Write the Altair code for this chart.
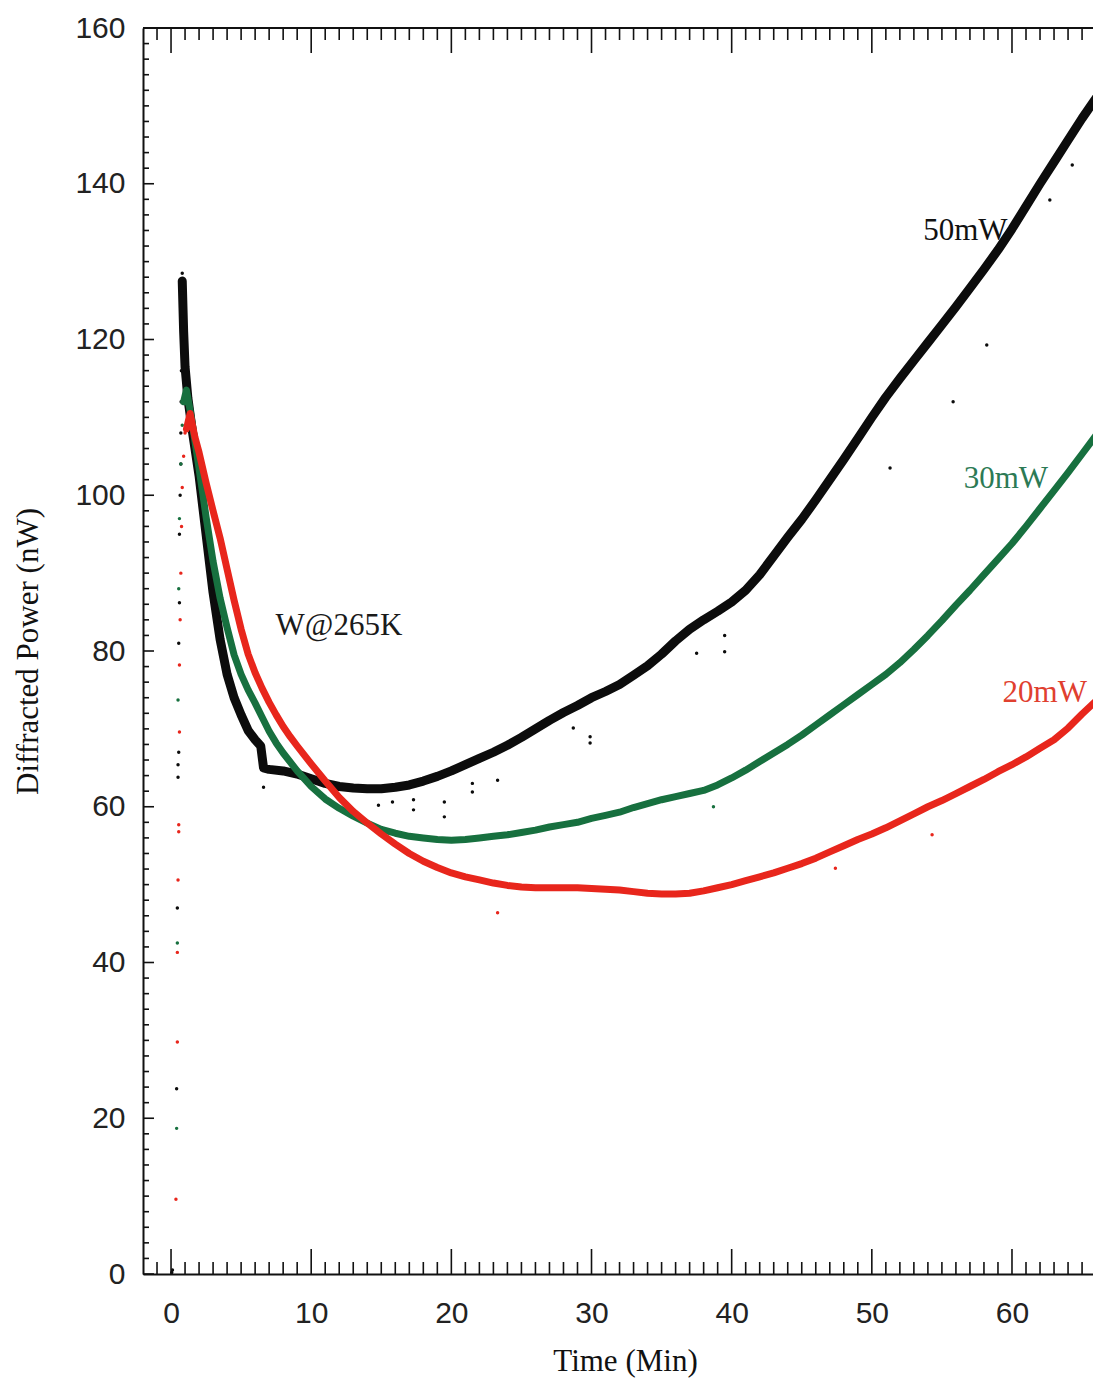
import altair as alt
import pandas as pd

# ---------------- data ----------------
# 50 mW (black)
t50 = [0.8, 0.9, 1.0, 1.2, 1.5, 2.0, 2.5, 3.0, 3.5, 4.0, 4.5, 5.0, 5.5, 6.0, 6.4, 6.6, 7.0,
       8, 9, 10, 11, 12, 13, 14, 15, 16, 17, 18, 19, 20, 21, 22, 23, 24, 25, 26, 27, 28, 29,
       30, 31, 32, 33, 34, 35, 36, 37, 38, 39, 40, 41, 42, 43, 44, 45, 46, 47, 48, 49, 50,
       51, 52, 53, 54, 55, 56, 57, 58, 59, 60, 61, 62, 63, 64, 65, 66, 66.4]
p50 = [127.5, 121, 116.5, 112.5, 108.5, 102.5, 95, 87.5, 81.5, 77, 74, 71.8, 69.8, 68.6, 67.8, 65.0, 64.8,
       64.6, 64.2, 63.6, 63.0, 62.6, 62.4, 62.3, 62.3, 62.5, 62.8, 63.3, 63.9, 64.6, 65.4, 66.2, 67.0,
       67.9, 68.9, 70.0, 71.1, 72.1, 73.0, 74.0, 74.8, 75.7, 76.9, 78.1, 79.6, 81.3, 82.8, 84.0, 85.1,
       86.3, 87.8, 89.8, 92.2, 94.6, 96.9, 99.4, 102.0, 104.6, 107.3, 110.0, 112.6, 115.0, 117.3, 119.6,
       121.9, 124.2, 126.6, 129.0, 131.5, 134.2, 137.1, 140.0, 142.8, 145.6, 148.4, 151.0, 152.0]

# 30 mW (green)
t30 = [0.9, 1.1, 1.4, 1.8, 2.2, 2.5, 3.0, 3.5, 4.0, 4.5, 5.0, 5.5, 6.0, 6.5, 7.0, 7.5, 8.0,
       9, 10, 11, 12, 13, 14, 15, 16, 17, 18, 19, 20, 21, 22, 23, 24, 25, 26, 27, 28, 29,
       30, 31, 32, 33, 34, 35, 36, 37, 38, 39, 40, 41, 42, 43, 44, 45, 46, 47, 48, 49, 50,
       51, 52, 53, 54, 55, 56, 57, 58, 59, 60, 61, 62, 63, 64, 65, 66, 66.4]
p30 = [112, 113.5, 110.5, 105.8, 101, 97.2, 91.5, 86.8, 83, 79.5, 77, 75, 73.3, 71.5, 69.7, 68.2, 66.9,
       64.6, 62.6, 61.0, 59.8, 58.8, 57.9, 57.1, 56.6, 56.2, 56.0, 55.8, 55.7, 55.8, 56.0, 56.2, 56.4,
       56.7, 57.0, 57.4, 57.7, 58.0, 58.5, 58.9, 59.3, 59.9, 60.4, 60.9, 61.3, 61.7, 62.1, 62.8, 63.7,
       64.7, 65.8, 66.9, 68.0, 69.2, 70.5, 71.8, 73.1, 74.4, 75.7, 77.0, 78.5, 80.2, 82.0, 83.9, 85.9,
       87.8, 89.8, 91.8, 93.8, 96.0, 98.3, 100.6, 102.9, 105.3, 107.7, 108.6]

# 20 mW (red)
t20 = [1.1, 1.36, 1.7, 2.0, 2.5, 3.0, 3.5, 4.0, 4.5, 5.0, 5.5, 6.0, 6.5, 7.0, 7.5, 8.0, 8.5, 9.0,
       10, 11, 12, 13, 14, 15, 16, 17, 18, 19, 20, 21, 22, 23, 24, 25, 26, 27, 28, 29,
       30, 31, 32, 33, 34, 35, 36, 37, 38, 39, 40, 41, 42, 43, 44, 45, 46, 47, 48, 49, 50,
       51, 52, 53, 54, 55, 56, 57, 58, 59, 60, 61, 62, 63, 64, 65, 66, 66.4]
p20 = [108.5, 110.5, 107.5, 105.5, 101.6, 98, 94.5, 90.5, 86.5, 82.8, 79.6, 77.2, 75.2, 73.4, 71.8, 70.3, 69.0, 67.8,
       65.5, 63.3, 61.2, 59.4, 57.9, 56.5, 55.2, 54.0, 53.0, 52.2, 51.5, 51.0, 50.6, 50.2, 49.9, 49.7,
       49.6, 49.6, 49.6, 49.6, 49.5, 49.4, 49.3, 49.1, 48.9, 48.8, 48.8, 48.9, 49.2, 49.6, 50.0, 50.5,
       51.0, 51.5, 52.1, 52.7, 53.4, 54.2, 55.0, 55.8, 56.5, 57.3, 58.2, 59.1, 60.0, 60.8, 61.7, 62.6,
       63.5, 64.5, 65.4, 66.4, 67.5, 68.6, 70.1, 71.9, 73.6, 74.2]

# scattered single points (start-up column and outliers)
dot50_t = [0.05, 0.1, 0.4, 0.45, 0.5, 0.5, 0.55, 0.55, 0.6, 0.6, 0.65, 0.7, 0.7, 0.72, 0.74, 0.76, 0.76, 0.78, 0.8,
           6.6, 14.8, 15.8, 17.3, 17.3, 19.5, 19.5, 21.5, 21.5, 23.3, 28.7, 29.9, 29.9, 37.5, 39.5, 39.5,
           51.3, 55.8, 58.2, 62.7, 64.3]
dot50_p = [0.2, 0.5, 23.8, 47, 63.8, 65.4, 67.0, 81.0, 86.2, 95, 100, 104, 108, 112, 116, 120, 123, 126, 128.5,
           62.5, 60.2, 60.6, 60.9, 59.6, 60.6, 58.7, 63.0, 61.9, 63.4, 70.1, 69.0, 68.2, 79.7, 82.0, 79.9,
           103.5, 112.0, 119.3, 137.9, 142.4]
dot30_t = [0.4, 0.45, 0.5, 0.55, 0.6, 0.7, 0.8, 0.85, 38.7]
dot30_p = [18.7, 42.5, 73.7, 88, 97, 104, 109, 112, 60.0]
dot20_t = [0.35, 0.45, 0.45, 0.5, 0.55, 0.55, 0.6, 0.6, 0.65, 0.7, 0.75, 0.8, 0.9, 1.0, 23.3, 47.4, 54.3]
dot20_p = [9.6, 29.8, 41.3, 50.6, 56.8, 57.7, 69.6, 78.2, 84, 90, 96, 101, 105, 108, 46.4, 52.1, 56.4]

# labels
label_text = ["W@265K", "50mW", "30mW", "20mW"]
label_t = [11.98, 56.67, 59.56, 62.34]
label_p = [82.05, 132.8, 100.9, 73.45]

# axis ticks
x_major = [0, 10, 20, 30, 40, 50, 60]
x_minor = [v for v in range(-1, 66) if v % 10 != 0]
y_major = [0, 20, 40, 60, 80, 100, 120, 140, 160]
y_minor = [v for v in range(2, 160, 2) if v % 20 != 0]

# ---------------- chart ----------------
W = 950
H = 1246
BLACK = "#0c0c0c"
GREEN = "#17703f"
RED = "#e8261c"

xs = alt.Scale(domain=[-2, 65.78], nice=False, zero=False)
ys = alt.Scale(domain=[0, 160], nice=False, zero=False)

x_axis = alt.Axis(values=x_major, title="Time (Min)", grid=False, tickSize=0,
                  labelPadding=24, titleX=482, titleY=87)
y_axis = alt.Axis(values=y_major, title="Diffracted Power (nW)", grid=False, tickSize=0,
                  labelPadding=18, titleX=-115, titleY=H / 2)


def df(t, p):
    return pd.DataFrame({"t": t, "p": p})


def line(t, p, color, w):
    return alt.Chart(df(t, p)).mark_line(color=color, strokeWidth=w, strokeJoin="round",
                                         strokeCap="round", clip=True).encode(
        x=alt.X("t:Q", scale=xs, axis=x_axis),
        y=alt.Y("p:Q", scale=ys, axis=y_axis),
        order="t:Q",
    )


def dots(t, p, color):
    return alt.Chart(df(t, p)).mark_circle(color=color, size=12, opacity=1, clip=True).encode(
        x=alt.X("t:Q", scale=xs, axis=x_axis),
        y=alt.Y("p:Q", scale=ys, axis=y_axis),
    )


def xticks(vals, y0, y1):
    return alt.Chart(pd.DataFrame({"v": vals})).mark_rule(color="#111111", strokeWidth=1.6).encode(
        x=alt.X("v:Q", scale=xs, axis=x_axis), y=alt.value(y0), y2=alt.value(y1))


def yticks(vals, x0, x1):
    return alt.Chart(pd.DataFrame({"v": vals})).mark_rule(color="#111111", strokeWidth=1.6).encode(
        y=alt.Y("v:Q", scale=ys, axis=y_axis), x=alt.value(x0), x2=alt.value(x1))


lab_df = pd.DataFrame({"t": label_t, "p": label_p, "label": label_text})


def label(i, color):
    return alt.Chart(lab_df.iloc[[i]]).mark_text(font="Liberation Serif", fontSize=31, color=color,
                                                 align="center", baseline="alphabetic").encode(
        x=alt.X("t:Q", scale=xs, axis=x_axis),
        y=alt.Y("p:Q", scale=ys, axis=y_axis),
        text="label:N",
    )


top_border = alt.Chart(pd.DataFrame({"v": [0]})).mark_rule(color="#111111", strokeWidth=2).encode(
    x=alt.value(0), x2=alt.value(W), y=alt.value(0))

chart = alt.layer(
    line(t50, p50, BLACK, 9),
    dots(dot50_t, dot50_p, BLACK),
    line(t30, p30, GREEN, 7),
    dots(dot30_t, dot30_p, GREEN),
    line(t20, p20, RED, 7),
    dots(dot20_t, dot20_p, RED),
    xticks(x_major, H, H - 25),
    xticks(x_minor, H, H - 12),
    xticks(x_major, 0, 25),
    xticks(x_minor, 0, 12),
    yticks(y_major, 0, 11),
    yticks(y_minor, 0, 6),
    top_border,
    label(0, "#1a1a1a"),
    label(1, "#111111"),
    label(2, "#2c7a55"),
    label(3, "#e0402f"),
).properties(
    width=W,
    height=H,
    background="white",
    autosize=alt.AutoSizeParams(type="none"),
    padding={"left": 135, "top": 20, "right": 0, "bottom": 104},
).configure_view(
    stroke=None
).configure_axis(
    ticks=False,
    domain=True,
    domainColor="#111111",
    domainWidth=2,
    labelFont="Liberation Sans",
    labelFontSize=30,
    labelColor="#222222",
    labelFlush=False,
    labelOverlap=False,
    titleFont="Liberation Serif",
    titleFontSize=31,
    titleFontWeight="normal",
    titleColor="#111111",
).configure_axisX(
    titleBaseline="middle",
    titleAlign="center",
).configure_axisY(
    titleBaseline="middle",
    titleAlign="center",
    titleAngle=270,
)

chart.save("out.html", embed_options={"renderer": "svg", "actions": False})
